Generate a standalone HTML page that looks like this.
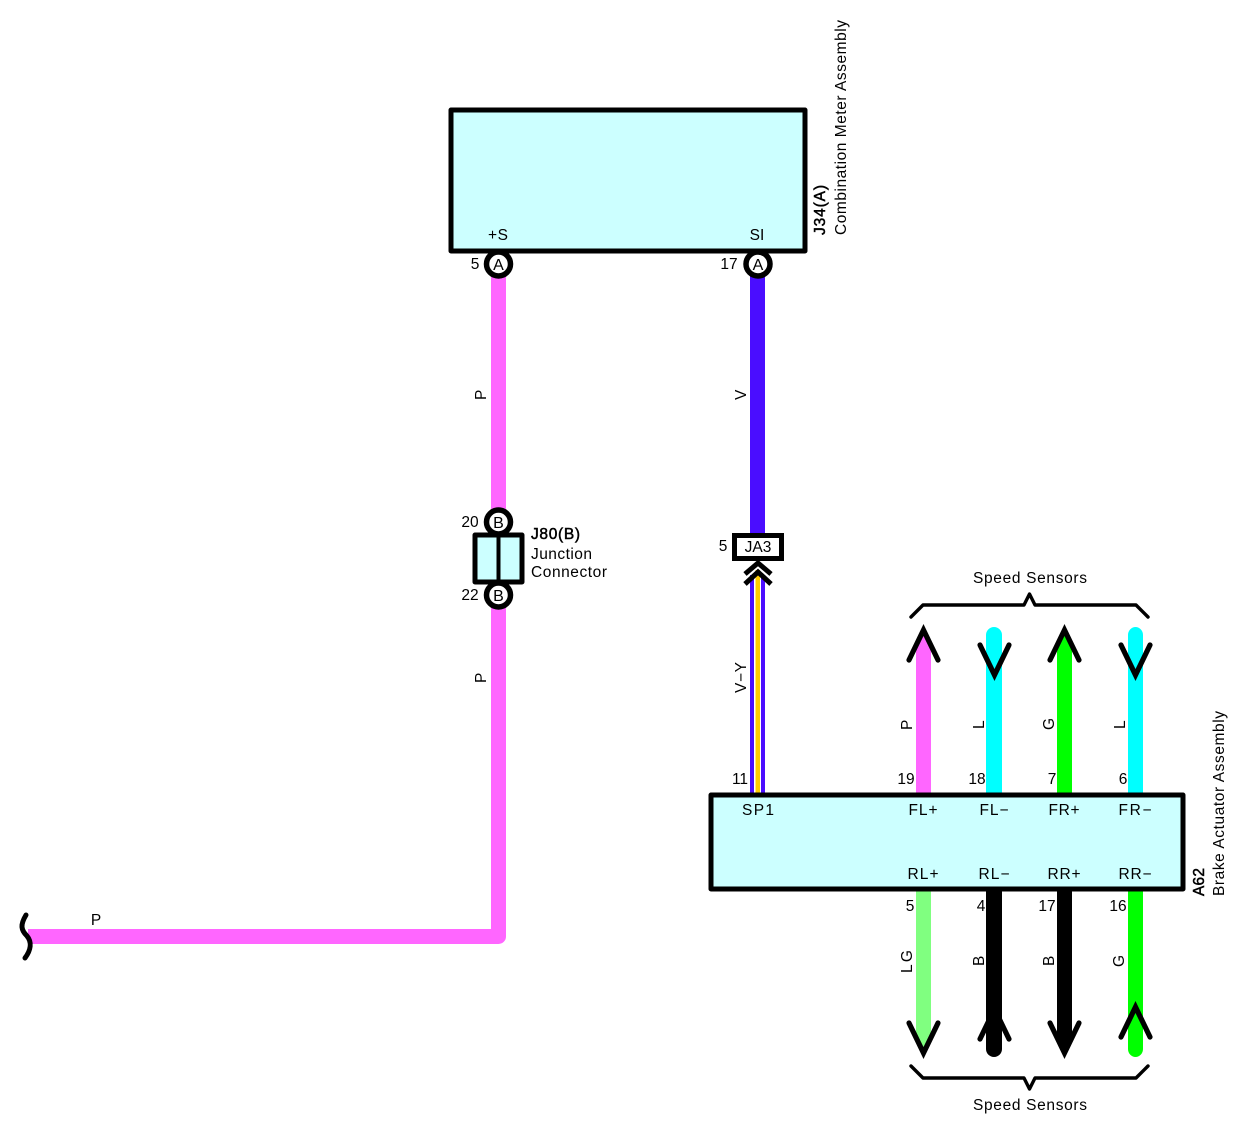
<!DOCTYPE html>
<html><head><meta charset="utf-8"><title>Speed signal circuit</title>
<style>
html,body{margin:0;padding:0;background:#fff;width:1251px;height:1137px;overflow:hidden}
svg{display:block}
text{font-family:"Liberation Sans",Arial,sans-serif;font-size:15.5px;fill:#000}
.m{text-anchor:middle}
.b{stroke:#000;stroke-width:.5}
.ln{fill:none;stroke:#000;stroke-width:5.2;stroke-linecap:round;stroke-linejoin:miter}
.br{fill:none;stroke:#000;stroke-width:3.4;stroke-linecap:round;stroke-linejoin:round}
.c{fill:#fff;stroke:#000;stroke-width:5.5}
.box{fill:#ccffff;stroke:#000;stroke-width:5;stroke-linejoin:round}
.p{font-size:16px}
</style></head><body>
<svg width="1251" height="1137" viewBox="0 0 1251 1137" xmlns="http://www.w3.org/2000/svg">
<!-- left pink wire -->
<path d="M498.5,270V936.5H28" fill="none" stroke="#ff66ff" stroke-width="15" stroke-linejoin="round"/>
<path d="M26,915C20,925 21,930 27,936C32,942 31,950 25,958" fill="none" stroke="#000" stroke-width="5" stroke-linecap="round"/>
<!-- violet -->
<rect x="750" y="270" width="15" height="270" fill="#4a0dff"/>
<rect x="750" y="575" width="15" height="218" fill="#4a0dff"/>
<rect x="754" y="570" width="7" height="223" fill="#fff"/>
<rect x="755.5" y="570" width="4.5" height="223" fill="#ffcc00"/>
<!-- top wires -->
<path d="M916,793V647L923.5,632L931,647V793Z" fill="#ff66ff"/>
<path d="M986,793V635a8,8 0 0 1 16,0V793Z" fill="#00ffff"/>
<path d="M1057,793V647L1064.5,632L1072,647V793Z" fill="#00ff00"/>
<path d="M1128,793V635a7.5,8 0 0 1 15,0V793Z" fill="#00ffff"/>
<!-- bottom wires -->
<path d="M916,890V1037L923.5,1052L931,1037V890Z" fill="#80ff80"/>
<path d="M986,890V1049a8,8 0 0 0 16,0V890Z" fill="#000"/>
<path d="M1057,890V1037L1064.5,1052L1072,1037V890Z" fill="#000"/>
<path d="M1128,890V1049a7.5,8 0 0 0 15,0V890Z" fill="#00ff00"/>
<!-- arrowheads -->
<path class="ln" d="M909,660L923.5,630L938,660"/>
<path class="ln" d="M980,645L994.5,675L1009,645"/>
<path class="ln" d="M1050,660L1064.5,630L1079,660"/>
<path class="ln" d="M1121,645L1135.5,675L1150,645"/>
<path class="ln" d="M909,1023L923.5,1053L938,1023"/>
<path class="ln" d="M980,1039L994.5,1009L1009,1039"/>
<path class="ln" d="M1050,1023L1064.5,1053L1079,1023"/>
<path class="ln" d="M1121,1037L1135.5,1007L1150,1037"/>
<!-- brackets -->
<path class="br" d="M911,617L923,605H1024L1029.5,594L1035,605H1136L1148,617"/>
<path class="br" d="M911,1066L923,1078H1024L1029.5,1089L1035,1078H1136L1148,1066"/>
<!-- boxes -->
<rect class="box" x="451" y="110" width="354" height="141"/>
<rect class="box" x="711" y="795" width="472" height="94"/>
<!-- connectors -->
<circle class="c" cx="498.5" cy="264" r="12"/>
<circle class="c" cx="758" cy="264" r="12"/>
<circle class="c" cx="498.5" cy="522" r="12"/>
<circle class="c" cx="498.5" cy="595" r="12"/>
<rect class="box" x="475" y="535" width="47" height="47"/>
<rect x="496.5" y="535" width="4" height="47" fill="#000"/>
<rect x="734.5" y="535.5" width="47" height="23" fill="#fff" stroke="#000" stroke-width="5"/>
<path d="M745,574L758,563L771,574" fill="none" stroke="#000" stroke-width="5"/>
<path d="M745,584L758,572L771,584" fill="none" stroke="#000" stroke-width="5"/>
<!-- labels -->
<text class="m" x="498" y="240" textLength="20">+S</text>
<text class="m" x="757" y="240">SI</text>
<text class="m p" x="498.5" y="270">A</text>
<text class="m p" x="758" y="270">A</text>
<text class="m p" x="498.5" y="528">B</text>
<text class="m p" x="498.5" y="601">B</text>
<text class="m" x="475" y="269">5</text>
<text class="m" x="729" y="269">17</text>
<text class="m" x="470" y="527">20</text>
<text class="m" x="470" y="600">22</text>
<text class="m" x="723" y="551">5</text>
<text class="m" x="758" y="552">JA3</text>
<text class="b" x="531" y="539" textLength="49">J80(B)</text>
<text x="531" y="559" textLength="61">Junction</text>
<text x="531" y="577" textLength="76">Connector</text>
<text class="m" x="1030" y="583" textLength="114">Speed Sensors</text>
<text class="m" x="1030" y="1110" textLength="114">Speed Sensors</text>
<text class="m" x="96" y="925">P</text>
<text class="m" x="740" y="784">11</text>
<text class="m" x="906" y="784">19</text>
<text class="m" x="977" y="784">18</text>
<text class="m" x="1052" y="784">7</text>
<text class="m" x="1123" y="784">6</text>
<text class="m" x="758" y="815" textLength="32">SP1</text>
<text class="m" x="923" y="815" textLength="29">FL+</text>
<text class="m" x="994" y="815" textLength="29">FL−</text>
<text class="m" x="1064" y="815" textLength="31">FR+</text>
<text class="m" x="1135" y="815" textLength="33">FR−</text>
<text class="m" x="923" y="879" textLength="31">RL+</text>
<text class="m" x="994" y="879" textLength="31">RL−</text>
<text class="m" x="1064" y="879" textLength="33">RR+</text>
<text class="m" x="1135" y="879" textLength="33">RR−</text>
<text class="m" x="910" y="911">5</text>
<text class="m" x="981" y="911">4</text>
<text class="m" x="1047" y="911">17</text>
<text class="m" x="1118" y="911">16</text>
<!-- rotated labels -->
<text transform="translate(486,400) rotate(-90)">P</text>
<text transform="translate(486,683) rotate(-90)">P</text>
<text transform="translate(746,400) rotate(-90)">V</text>
<text transform="translate(746,693) rotate(-90)" textLength="31">V−Y</text>
<text transform="translate(912,730) rotate(-90)">P</text>
<text transform="translate(984,729) rotate(-90)">L</text>
<text transform="translate(1054,730) rotate(-90)">G</text>
<text transform="translate(1125,729) rotate(-90)">L</text>
<text transform="translate(912,973) rotate(-90)" textLength="23">LG</text>
<text transform="translate(984,966) rotate(-90)">B</text>
<text transform="translate(1054,966) rotate(-90)">B</text>
<text transform="translate(1124,967) rotate(-90)">G</text>
<text class="b" transform="translate(825,235) rotate(-90)" textLength="50">J34(A)</text>
<text transform="translate(846,235) rotate(-90)" textLength="215">Combination Meter Assembly</text>
<text class="b" transform="translate(1204,896) rotate(-90)" textLength="28">A62</text>
<text transform="translate(1224,896) rotate(-90)" textLength="185">Brake Actuator Assembly</text>
</svg>
</body></html>
